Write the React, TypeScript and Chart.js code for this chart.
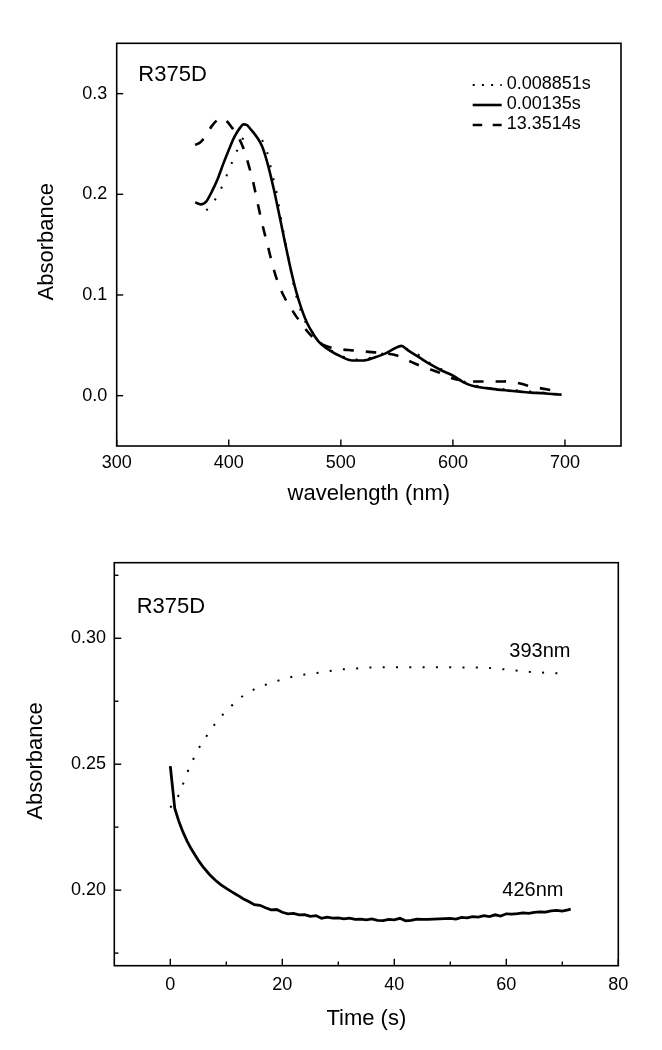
import React, { useEffect, useRef } from "react";
import { Chart, registerables } from "chart.js";

Chart.register(...registerables);

const FONT = "'Liberation Sans', Arial, Helvetica, sans-serif";

// ---------- Top chart: spectra (wavelength nm vs absorbance) ----------
const specLegend = ["0.008851s", "0.00135s", "13.3514s"];

const wlDotted = [380, 385, 389, 395, 400, 405, 410, 415, 420, 425, 430, 434, 437, 440, 443, 446, 450, 455, 460, 465, 470, 475, 480, 490, 500, 510, 520, 530, 540, 548, 554, 560, 570, 580, 590, 600, 610, 620, 630, 640, 650, 660, 670, 680, 690, 697];
const absDotted = [0.184, 0.19, 0.197, 0.21, 0.224, 0.237, 0.25, 0.259, 0.262, 0.26, 0.2535, 0.243, 0.229, 0.2145, 0.2, 0.18, 0.156, 0.126, 0.1, 0.082, 0.07, 0.0625, 0.055, 0.046, 0.04, 0.036, 0.036, 0.039, 0.043, 0.047, 0.049, 0.046, 0.04, 0.032, 0.026, 0.02, 0.014, 0.01, 0.008, 0.007, 0.006, 0.005, 0.004, 0.003, 0.002, 0.001];

const wlSolid = [370, 375, 380, 385, 390, 395, 400, 405, 410, 413, 416, 420, 425, 430, 435, 440, 445, 450, 455, 460, 465, 470, 475, 480, 490, 500, 510, 520, 530, 540, 548, 554, 560, 570, 580, 590, 600, 610, 620, 630, 640, 650, 660, 670, 680, 690, 697];
const absSolid = [0.192, 0.19, 0.193, 0.203, 0.215, 0.23, 0.244, 0.257, 0.266, 0.2695, 0.269, 0.264, 0.257, 0.247, 0.229, 0.206, 0.18, 0.153, 0.127, 0.104, 0.086, 0.072, 0.062, 0.054, 0.045, 0.039, 0.035, 0.035, 0.038, 0.042, 0.047, 0.0495, 0.045, 0.038, 0.031, 0.025, 0.02, 0.013, 0.009, 0.0075, 0.006, 0.005, 0.004, 0.003, 0.0025, 0.0015, 0.001];

const wlDashed = [370, 375, 380, 385, 390, 394, 398, 403, 408, 413, 418, 422, 426, 430, 435, 440, 445, 450, 455, 460, 465, 470, 475, 480, 490, 500, 510, 520, 530, 540, 550, 560, 570, 580, 590, 600, 610, 620, 630, 640, 650, 660, 670, 680, 690, 697];
const absDashed = [0.249, 0.252, 0.259, 0.268, 0.274, 0.276, 0.273, 0.266, 0.258, 0.246, 0.228, 0.211, 0.19, 0.17, 0.148, 0.126, 0.109, 0.097, 0.088, 0.079, 0.072, 0.064, 0.058, 0.053, 0.048, 0.046, 0.045, 0.044, 0.043, 0.042, 0.04, 0.035, 0.03, 0.026, 0.022, 0.017, 0.015, 0.014, 0.014, 0.014, 0.0142, 0.012, 0.009, 0.007, 0.005, 0.004];

const specXTicks = [300, 400, 500, 600, 700];
const specYTicks = [0, 0.1, 0.2, 0.3];

// ---------- Bottom chart: kinetics (time s vs absorbance) ----------
const kinLabels = ["393nm", "426nm"];

const t393 = [0, 1, 2, 3, 4, 5, 6, 7, 8, 9, 10, 12, 14, 16, 18, 20, 22, 24, 26, 28, 30, 33, 36, 40, 44, 48, 52, 56, 60, 64, 68, 71];
const a393 = [0.2328, 0.2355, 0.2405, 0.2465, 0.2515, 0.256, 0.2595, 0.263, 0.266, 0.2688, 0.271, 0.2755, 0.2785, 0.2808, 0.2822, 0.2837, 0.2848, 0.2856, 0.2862, 0.2868, 0.2875, 0.288, 0.2884, 0.2885, 0.2885, 0.2885, 0.2884, 0.2883, 0.2876, 0.2867, 0.2862, 0.286];

const t426 = [0, 0.8, 1.5, 2.25, 3, 3.7, 4.5, 5.2, 6, 7, 8, 9, 10, 11, 12, 13, 14, 15, 16, 17, 18, 19, 20, 21, 22, 23, 24, 25, 26, 27, 28, 29, 30, 31, 32, 33, 34, 35, 36, 37, 38, 39, 40, 41, 42, 43, 44, 45, 46, 47, 48, 49, 50, 51, 52, 53, 54, 55, 56, 57, 58, 59, 60, 61, 62, 63, 64, 65, 66, 67, 68, 69, 70, 71, 71.5];
const a426 = [0.2492, 0.2324, 0.2275, 0.2231, 0.2195, 0.2165, 0.2137, 0.2112, 0.2088, 0.2062, 0.204, 0.2022, 0.2007, 0.1993, 0.198, 0.1966, 0.1955, 0.1942, 0.194, 0.193, 0.1922, 0.1923, 0.1912, 0.1906, 0.1908, 0.1902, 0.1903, 0.1896, 0.1899, 0.1888, 0.1893, 0.1889, 0.189, 0.1886, 0.1889, 0.1884, 0.1885, 0.1882, 0.1886, 0.188, 0.1879, 0.1884, 0.1882, 0.1888, 0.1878, 0.188, 0.1885, 0.1884, 0.1884, 0.1885, 0.1886, 0.1887, 0.1888, 0.1885, 0.1892, 0.189, 0.1895, 0.1893, 0.1899, 0.1895, 0.1902, 0.1897, 0.1906, 0.1905, 0.1907, 0.191, 0.1908, 0.1912, 0.1914, 0.1913, 0.1918, 0.192, 0.1917, 0.1922, 0.1925];

const kinXTicks = [0, 20, 40, 60, 80];
const kinXMinor = [10, 30, 50, 70];
const kinYTicks = [0.2, 0.25, 0.3];
const kinYMinor = [0.175, 0.225, 0.275, 0.325];

const toXY = (xs: number[], ys: number[]) => xs.map((x, i) => ({ x, y: ys[i] }));

const DOT = [2, 11.3];
const DASH = [10.5, 12];

type TickCfg = {
  xMajor: number[];
  xMinor: number[];
  yMajor: number[];
  yMinor: number[];
  majorLen: number;
  minorLen: number;
};

function framePlugin(cfg: TickCfg) {
  return {
    id: "frameTicks",
    afterDatasetsDraw(chart: any) {
      const { ctx, chartArea: a, scales } = chart;
      ctx.save();
      ctx.setLineDash([]);
      ctx.strokeStyle = "#000";
      ctx.lineWidth = 1.6;
      ctx.strokeRect(a.left, a.top, a.right - a.left, a.bottom - a.top);
      ctx.lineWidth = 1.4;
      const drawX = (vals: number[], len: number) => {
        vals.forEach((v) => {
          const px = scales.x.getPixelForValue(v);
          ctx.beginPath();
          ctx.moveTo(px, a.bottom);
          ctx.lineTo(px, a.bottom - len);
          ctx.stroke();
        });
      };
      const drawY = (vals: number[], len: number) => {
        vals.forEach((v) => {
          const py = scales.y.getPixelForValue(v);
          ctx.beginPath();
          ctx.moveTo(a.left, py);
          ctx.lineTo(a.left + len, py);
          ctx.stroke();
        });
      };
      drawX(cfg.xMajor, cfg.majorLen);
      drawX(cfg.xMinor, cfg.minorLen);
      drawY(cfg.yMajor, cfg.majorLen);
      drawY(cfg.yMinor, cfg.minorLen);
      ctx.restore();
    },
  };
}

type TextItem = { text: string; dx: number; dy: number; size: number };
type LegendItem = { text: string; dash: number[]; width: number };

function textPlugin(opts: {
  items: TextItem[];
  xTitle: string;
  xTitleBaseline: number;
  yTitle: string;
  yTitleBaseline: number;
  yTitleCenter: number;
  legend?: LegendItem[];
  legendDx?: number;
  legendDy?: number;
  legendStep?: number;
}) {
  return {
    id: "texts",
    afterDraw(chart: any) {
      const { ctx, chartArea: a } = chart;
      ctx.save();
      ctx.fillStyle = "#000";
      ctx.textAlign = "left";
      ctx.textBaseline = "alphabetic";
      opts.items.forEach((it) => {
        ctx.font = `${it.size}px ${FONT}`;
        ctx.fillText(it.text, a.left + it.dx, a.top + it.dy);
      });
      // axis titles
      ctx.font = `22px ${FONT}`;
      ctx.textAlign = "center";
      ctx.fillText(opts.xTitle, (a.left + a.right) / 2, opts.xTitleBaseline);
      ctx.save();
      ctx.translate(opts.yTitleBaseline, opts.yTitleCenter);
      ctx.rotate(-Math.PI / 2);
      ctx.fillText(opts.yTitle, 0, 0);
      ctx.restore();
      // legend
      if (opts.legend) {
        ctx.font = `18px ${FONT}`;
        ctx.textAlign = "left";
        ctx.textBaseline = "middle";
        opts.legend.forEach((lg, i) => {
          const cy = a.top + (opts.legendDy || 0) + i * (opts.legendStep || 20);
          const tx = a.left + (opts.legendDx || 0);
          ctx.save();
          ctx.strokeStyle = "#000";
          ctx.lineWidth = lg.width;
          ctx.setLineDash(lg.dash);
          ctx.beginPath();
          ctx.moveTo(tx - 34, cy + 1);
          ctx.lineTo(tx - 5, cy + 1);
          ctx.stroke();
          ctx.restore();
          ctx.fillText(lg.text, tx, cy);
        });
      }
      ctx.restore();
    },
  };
}

function SpectraChart() {
  const ref = useRef<HTMLCanvasElement>(null);
  useEffect(() => {
    if (!ref.current) return;
    const chart = new Chart(ref.current, {
      type: "line",
      data: {
        datasets: [
          {
            label: specLegend[0],
            data: toXY(wlDotted, absDotted),
            borderColor: "#000",
            borderWidth: 2,
            borderDash: DOT,
            pointRadius: 0,
            cubicInterpolationMode: "monotone",
            fill: false,
          },
          {
            label: specLegend[1],
            data: toXY(wlSolid, absSolid),
            borderColor: "#000",
            borderWidth: 2.6,
            pointRadius: 0,
            cubicInterpolationMode: "monotone",
            fill: false,
          },
          {
            label: specLegend[2],
            data: toXY(wlDashed, absDashed),
            borderColor: "#000",
            borderWidth: 2.6,
            borderDash: DASH,
            pointRadius: 0,
            cubicInterpolationMode: "monotone",
            fill: false,
          },
        ],
      },
      options: {
        animation: false,
        responsive: false,
        devicePixelRatio: 1,
        layout: { padding: { top: 43.3, right: 41, left: 0, bottom: 0 } },
        plugins: { legend: { display: false }, tooltip: { enabled: false } },
        scales: {
          x: {
            type: "linear",
            min: 300,
            max: 750,
            grid: { display: false, drawTicks: false },
            border: { display: false },
            afterBuildTicks: (s: any) => {
              s.ticks = specXTicks.map((v) => ({ value: v }));
            },
            afterFit: (s: any) => {
              s.height = 79;
            },
            ticks: {
              padding: 6.2,
              maxRotation: 0,
              color: "#000",
              font: { family: FONT, size: 18 },
              callback: (v: any) => String(v),
            },
          },
          y: {
            type: "linear",
            min: -0.05,
            max: 0.35,
            grid: { display: false, drawTicks: false },
            border: { display: false },
            afterBuildTicks: (s: any) => {
              s.ticks = specYTicks.map((v) => ({ value: v }));
            },
            afterFit: (s: any) => {
              s.width = 116.7;
            },
            ticks: {
              padding: 9.4,
              color: "#000",
              font: { family: FONT, size: 18 },
              callback: (v: any) => Number(v).toFixed(1),
            },
          },
        },
      },
      plugins: [
        framePlugin({ xMajor: specXTicks, xMinor: [], yMajor: specYTicks, yMinor: [], majorLen: 6.5, minorLen: 4 }),
        textPlugin({
          items: [{ text: "R375D", dx: 21.6, dy: 37.7, size: 22 }],
          xTitle: "wavelength (nm)",
          xTitleBaseline: 500,
          yTitle: "Absorbance",
          yTitleBaseline: 53,
          yTitleCenter: 241.7,
          legend: [
            { text: specLegend[0], dash: [2, 7.2], width: 2 },
            { text: specLegend[1], dash: [], width: 2.6 },
            { text: specLegend[2], dash: [9.5, 10.5], width: 2.6 },
          ],
          legendDx: 390,
          legendDy: 40.7,
          legendStep: 20,
        }),
      ],
    } as any);
    return () => chart.destroy();
  }, []);
  return <canvas ref={ref} width={662} height={525} style={{ display: "block" }} />;
}

function KineticsChart() {
  const ref = useRef<HTMLCanvasElement>(null);
  useEffect(() => {
    if (!ref.current) return;
    const chart = new Chart(ref.current, {
      type: "line",
      data: {
        datasets: [
          {
            label: kinLabels[0],
            data: toXY(t393, a393),
            borderColor: "#000",
            borderWidth: 2,
            borderDash: DOT,
            pointRadius: 0,
            cubicInterpolationMode: "monotone",
            fill: false,
          },
          {
            label: kinLabels[1],
            data: toXY(t426, a426),
            borderColor: "#000",
            borderWidth: 2.8,
            pointRadius: 0,
            tension: 0,
            fill: false,
          },
        ],
      },
      options: {
        animation: false,
        responsive: false,
        devicePixelRatio: 1,
        layout: { padding: { top: 37.7, right: 43.7, left: 0, bottom: 0 } },
        plugins: { legend: { display: false }, tooltip: { enabled: false } },
        scales: {
          x: {
            type: "linear",
            min: -10,
            max: 80,
            grid: { display: false, drawTicks: false },
            border: { display: false },
            afterBuildTicks: (s: any) => {
              s.ticks = kinXTicks.map((v) => ({ value: v }));
            },
            afterFit: (s: any) => {
              s.height = 84.3;
            },
            ticks: {
              padding: 8.5,
              maxRotation: 0,
              color: "#000",
              font: { family: FONT, size: 18 },
              callback: (v: any) => String(v),
            },
          },
          y: {
            type: "linear",
            min: 0.17,
            max: 0.33,
            grid: { display: false, drawTicks: false },
            border: { display: false },
            afterBuildTicks: (s: any) => {
              s.ticks = kinYTicks.map((v) => ({ value: v }));
            },
            afterFit: (s: any) => {
              s.width = 114.3;
            },
            ticks: {
              padding: 8.3,
              color: "#000",
              font: { family: FONT, size: 18 },
              callback: (v: any) => Number(v).toFixed(2),
            },
          },
        },
      },
      plugins: [
        framePlugin({ xMajor: kinXTicks, xMinor: kinXMinor, yMajor: kinYTicks, yMinor: kinYMinor, majorLen: 7, minorLen: 4.2 }),
        textPlugin({
          items: [
            { text: "R375D", dx: 22.4, dy: 50, size: 22 },
            { text: kinLabels[0], dx: 395, dy: 94, size: 20 },
            { text: kinLabels[1], dx: 388, dy: 333, size: 20 },
          ],
          xTitle: "Time (s)",
          xTitleBaseline: 500,
          yTitle: "Absorbance",
          yTitleBaseline: 41.7,
          yTitleCenter: 236,
        }),
      ],
    } as any);
    return () => chart.destroy();
  }, []);
  return <canvas ref={ref} width={662} height={525} style={{ display: "block" }} />;
}

export default function App() {
  return (
    <div style={{ position: "absolute", left: 0, top: 0, width: 662, height: 1050, background: "#fff" }}>
      <SpectraChart />
      <KineticsChart />
    </div>
  );
}
